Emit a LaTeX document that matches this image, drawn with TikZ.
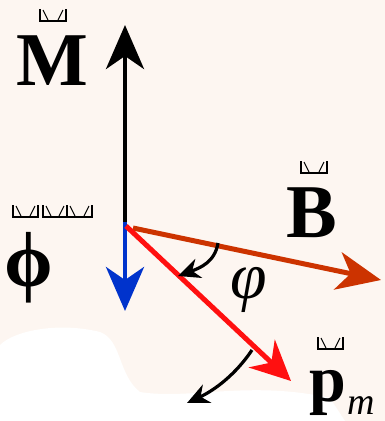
\documentclass[tikz,border=0pt]{standalone}
\usepackage{fontspec}
\setmainfont{Liberation Serif}
\usetikzlibrary{arrows.meta}
\definecolor{bgcream}{HTML}{FDF6F1}
\definecolor{fieldred}{HTML}{CC3300}
\definecolor{momentred}{HTML}{FF1010}
\definecolor{downblue}{HTML}{0033CC}

% broken vector accent: x, y (top left), width
\newcommand{\accbox}[3]{%
  \draw[line width=2pt] (#1,#2) -- (#1,#2+12) -- (#1+#3,#2+12) -- (#1+#3,#2);
  \draw[line width=1pt] (#1+3,#2+1) -- (#1+8,#2+11);
  \draw[line width=1pt] (#1+#3-3,#2+1) -- (#1+#3-8,#2+11);}

\begin{document}
\begin{tikzpicture}[x=1pt,y=-1pt,
    vecarrow/.style={line width=4.5pt,-{Stealth[length=44pt,width=38pt,inset=13pt]}},
    turnarrow/.style={line width=3.2pt,-{Stealth[length=22pt,width=20pt,inset=7pt]}},
    lbl/.style={inner sep=0pt,anchor=base west}]

    % --- Background ---
    \useasboundingbox (0,0) rectangle (385,421);
    \fill[bgcream] (0,0) rectangle (385,421);
    \fill[white] (0,345) .. controls (15,330) and (60,322) .. (100,332)
        .. controls (122,340) and (118,375) .. (140,392)
        .. controls (190,400) and (250,380) .. (330,398)
        -- (345,421) -- (0,421) -- cycle;

    % --- Points ---
    \coordinate (O) at (125,222);
    \coordinate (Mtip) at (125,25);
    \coordinate (Dtip) at (125,311);
    \coordinate (Bstart) at (133,228);
    \coordinate (Btip) at (381,280);
    \coordinate (Pstart) at (126,226);
    \coordinate (Ptip) at (291,381);

    % --- Vectors ---
    \draw[vecarrow] (O) -- (Mtip);
    \draw[vecarrow, downblue] (O) -- (Dtip);
    \draw[vecarrow, fieldred, line width=5pt] (Bstart) -- (Btip);
    \draw[vecarrow, momentred, line width=5pt,
          -{Stealth[length=40pt,width=38pt,inset=13pt]}] (Pstart) -- (Ptip);

    % --- Angle and rotation arrows ---
    \coordinate (a1) at (218,243);
    \coordinate (a2) at (178,276);
    \draw[turnarrow] (a1) .. controls (215,262) and (200,268) .. (a2);
    \coordinate (r1) at (252,350);
    \coordinate (r2) at (187,403);
    \draw[turnarrow] (r1) .. controls (236,374) and (215,390) .. (r2);

    % --- Labels ---
    \node[lbl] (M) at (16,85) {\fontsize{76}{76}\selectfont\bfseries M};
    \accbox{40}{9}{26}
    \node[lbl] (B) at (286,237) {\fontsize{76}{76}\selectfont\bfseries B};
    \accbox{301}{161}{26}
    \node[inner sep=0pt] (phi) at (29,268) {\fontsize{78}{78}\selectfont\bfseries ϕ};
    \accbox{13}{205}{25}
    \accbox{43}{205}{24}
    \accbox{67}{205}{25}
    \node[inner sep=0pt] (ang) at (249,290) {\fontsize{66}{66}\selectfont\itshape φ};
    \node[lbl] (p) at (309,401) {\fontsize{66}{66}\selectfont\bfseries p};
    \accbox{318}{337}{25}
    \node[lbl] (m) at (347,414) {\fontsize{38}{38}\selectfont\itshape m};
\end{tikzpicture}
\end{document}
